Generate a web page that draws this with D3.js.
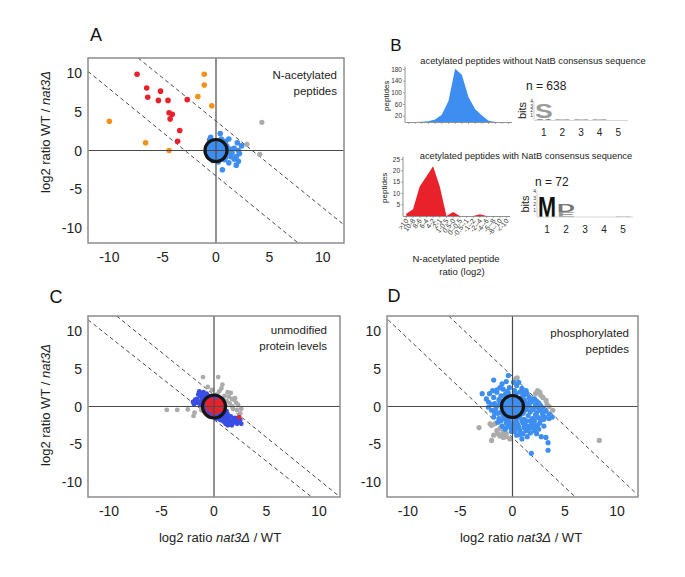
<!DOCTYPE html>
<html><head><meta charset="utf-8">
<script src="https://cdn.jsdelivr.net/npm/d3@7"></script>
<style>body{margin:0;background:#fff} svg{display:block}</style>
</head><body><svg id="c" width="685" height="577"></svg>
<script>
// ---------------- DATA ----------------
// Panel A : N-acetylated peptides  [log2 nat3Δ/WT, log2 WT/nat3Δ]
const aRed = [[-7.4,9.9],[-6.5,8.1],[-6.4,6.9],[-5.2,7.7],[-5.4,6.5],[-4.5,6.5],[-4.4,4.9],[-4.1,4.7],[-4.3,4.1],[-3.4,2.6],[-3.6,1.2],[-2.7,6.6]];
const aOrange = [[-1.1,9.9],[-1.1,8.5],[-1.7,7.0],[-0.4,5.8],[-10.0,3.8],[-6.6,1.0],[-4.4,0.0]];
const aGrey = [[4.3,3.65],[2.9,0.8],[4.1,-0.5]];
const aBlue = [[0.4,2.2],[-0.5,1.7],[1.2,1.5],[1.7,0.3],[2.0,1.0],[2.4,0.6],[2.1,0.0],[2.2,-0.4],[1.9,-0.8],[1.7,-1.1],[2.1,-1.4],[1.9,-1.9],[0.6,-2.5],[1.4,-0.8],[1.2,-1.6],[-0.7,-0.8],[-0.6,1.4],[0.9,1.2],[1.0,0.6],[1.1,-0.3],[0.8,-1.2],[-0.3,-1.3],[0.2,-1.5],[-0.8,0.5],[-0.9,-0.2],[0.5,1.5],[1.3,0.2],[0.3,0.9],[-0.4,0.6],[0.6,-0.5],[0,0],[-0.3,-0.4],[0.4,0.3],[1.5,-0.3],[0.9,-0.9]];
const aLines = [[[-7.3,12],[12,-9.65]],[[-12,10.26],[7.7,-12]]];

// Panel C : unmodified protein levels
const cGrey = [[-4.5,-0.45],[-3.5,-0.45],[-2.5,-0.4],[-1.85,-0.8],[-1.95,-1.25],[-1.05,3.9],[0.4,3.9],[0.8,2.9],[1.4,1.3],[1.9,0.9],[1.75,0.0],[2.2,-0.45],[2.5,-0.9],[-1.6,0.9],[1.6,1.8],[2.0,1.1],[1.2,0.7],[1.0,1.4],[0.5,2.0],[-0.2,2.2],[2.3,0.2],[1.5,0.4],[1.8,-0.3],[0.9,0.9],[2.6,-0.3],[0.3,1.6],[-1.2,-0.5],[1.3,1.9],[2.1,0.5],[0.7,2.4],[-0.6,2.6],[1.7,1.0]];
const cBlue = [[-1.4,2.0],[-1.2,1.7],[-1.3,1.4],[-1.0,1.9],[-0.9,1.5],[-1.1,1.1],[-0.8,1.2],[-0.7,1.7],[-0.6,0.9],[-1.0,0.6],[-0.5,1.4],[-0.4,1.0],[-0.9,0.3],[-0.6,0.4],[-1.2,0.8],[-1.5,1.6],[-0.3,0.6],[-1.3,0.2],[-1.8,0.9],[-1.6,0.5],[-1.9,0.3],[-0.6,-0.3],[0.6,0.3],[-0.5,-0.6],[0.7,-0.6],[0.5,-1.0],[0.9,-0.5],[1.0,-0.9],[1.1,-1.3],[0.8,-1.4],[1.3,-1.0],[1.4,-1.5],[1.2,-1.8],[1.6,-1.3],[1.6,-2.0],[1.9,-1.6],[1.8,-2.2],[2.1,-1.9],[2.2,-2.3],[1.5,-2.4],[2.4,-2.0],[2.3,-1.5],[2.5,-1.8],[0.3,-1.3],[0.6,-1.8],[0.9,-2.0],[1.1,-2.3],[1.3,-2.5],[0.0,-1.1],[-0.3,-0.9],[0.2,-1.6],[1.7,-2.5],[2.6,-2.3],[-0.2,1.2],[0.1,1.0],[1.0,-0.2],[0.7,-1.1],[1.2,-0.6],[-0.8,-0.1],[-1.1,0.1],
[0.4,-1.6],[0.8,-1.8],[1.0,-1.6],[1.5,-1.8],[1.9,-2.0],[2.0,-1.5],[2.2,-1.7],[1.4,-2.1],[-1.6,1.0],[-1.3,1.8],[-0.9,1.0],[-0.5,1.1],[-1.0,0.2],[-1.4,0.5],[0.9,-1.2],[1.2,-1.2],[0.6,-1.3],[-2.0,0.6]];
const cRed = [[-0.5,0.3],[0.2,0.6],[0.6,-0.1],[-0.3,-0.5],[0.1,-0.2],[0.4,0.4],[-0.6,-0.1],[0.3,-0.7],[-0.1,0.9],[0.7,0.5],[-0.4,0.8],[0.0,-0.9],[0.8,-0.4],[-0.7,0.5],[0.5,-0.5],[2.4,-1.4],[0.0,0.3],[0.3,0.1],[-0.2,0.2]];
const cLines = [[[-9.27,12],[12,-12]],[[-12,11.5],[9.3,-12]]];

// Panel D : phosphorylated peptides
const dGrey = [[0.32,3.7],[0.45,3.8],[2.4,2.1],[2.2,1.7],[2.9,1.2],[3.2,0.8],[3.5,0.0],[3.85,-0.5],[8.3,-4.5],[2.7,1.5],[3.3,0.3],[2.6,1.9],[-3.2,-2.8],[-2.15,-2.3],[-2.0,-2.5],[-1.7,-2.3],[-1.5,-3.2],[-1.2,-2.9],[-0.9,-3.4],[-1.0,-3.8],[-1.8,-3.8],[-2.0,-4.5],[-0.6,-3.6],[-0.25,-4.3],[-1.4,-3.6],[-0.6,-4.0],[-1.2,-3.9],[-0.88,-4.1]];
const dBlue = [[-1.8,3.5],[-0.4,4.1],[0.1,3.2],[-1.0,3.0],[-0.9,2.3],[0.4,2.8],[-1.5,2.2],[-0.3,2.5],[0.9,2.4],[1.3,2.1],[-0.5,2.0],[0.2,2.1],
[-2.9,1.7],[-2.2,1.7],[-1.5,1.9],[-1.1,1.4],[-0.7,1.6],[-0.2,1.3],[0.3,1.7],[0.7,1.9],[1.1,1.5],[1.6,1.2],[1.9,1.0],[-1.8,1.2],[-0.4,1.8],[0.9,1.2],[1.4,1.7],[2.1,1.0],
[-2.3,0.6],[-1.7,0.4],[-1.3,0.9],[-0.9,0.3],[-1.1,0.7],[1.2,0.8],[1.5,0.4],[1.8,0.6],[2.2,0.2],[2.5,0.5],[2.7,0.1],[1.0,0.2],[-1.5,0.1],[2.0,0.9],[1.3,0.1],[-2.0,0.3],[2.9,-0.2],
[-2.0,-0.5],[-1.6,-0.3],[-1.2,-0.8],[-0.9,-0.4],[1.1,-0.6],[1.4,-0.2],[1.7,-0.7],[2.0,-0.3],[2.3,-0.8],[2.6,-0.5],[2.9,-0.9],[3.2,-0.6],[-1.4,-0.9],[1.0,-0.9],[2.4,-0.1],[3.5,-1.0],
[-1.8,-1.4],[-1.3,-1.6],[-0.9,-1.2],[-0.5,-1.8],[-0.1,-1.4],[0.3,-1.9],[0.7,-1.3],[1.1,-1.7],[1.5,-1.2],[1.9,-1.6],[2.3,-1.3],[2.7,-1.8],[3.1,-1.4],[3.5,-1.6],[3.8,-1.4],[-0.3,-1.1],[0.5,-1.5],[1.3,-1.9],[2.1,-1.9],[2.9,-1.2],
[-1.4,-2.1],[-1.0,-2.6],[-0.6,-2.2],[-0.2,-2.8],[0.2,-2.3],[0.6,-2.7],[1.0,-2.2],[1.4,-2.6],[1.8,-2.3],[2.2,-2.7],[2.6,-2.2],[3.0,-2.6],[-0.7,-2.9],[0.4,-2.1],[1.6,-2.9],[2.0,-2.2],
[-0.7,-3.0],[0.2,-3.3],[0.7,-3.2],[1.3,-3.2],[2.1,-3.2],[1.0,-3.6],[0.4,-3.8],[1.7,-3.5],[2.75,-4.0],[3.2,-4.1],
[3.4,-4.8],[3.4,-5.8],[1.8,-6.2],[0.9,-4.3],
[-0.5,0.5],[0.5,-0.5],[0.6,0.6],[-0.6,-0.6],[0.8,0.1],[-0.8,-0.1],[0.1,0.8],[-0.1,-0.9],[0.7,-0.9],[-0.7,0.9],[1.0,0.5],[-1.0,-0.2],[0.4,1.1],[-0.3,-1.2],
[-0.2,0.6],[0.2,-0.7],[-1.2,0.4],[1.3,-0.4],[0.9,0.8],[-0.4,-0.3],[1.6,0.1],[1.9,-0.4],[2.2,-1.1],[2.5,-1.5],[0.5,-2.4],[-0.3,-2.0],[0.9,-1.9],[1.2,-2.4],[1.7,-1.9],[2.4,-2.5],[2.8,-0.6],[3.0,-1.7],[-1.7,-0.9],[-2.3,-0.1],[-2.5,1.0],[-1.9,2.1],[-1.2,2.5],[0.6,3.2],[-0.6,3.3],[1.0,1.8],[1.7,0.9],[2.3,0.7],[-0.8,-1.6],[-1.1,-1.9],[0.0,-2.5],[0.3,-2.9],[1.1,-2.8],[1.9,-2.8],[2.5,-3.0],[2.3,-3.6],[1.4,-4.0],[0.7,-3.7],[-0.1,-3.3],[-0.4,-2.5]];
const dLines = [[[-6.1,12],[11.8,-11.5]],[[-11.9,11.5],[6.0,-12]]];

// Panel B : histograms of N-acetylated peptide ratio (log2) bins
const histBins = [">10","10-8","8-6","6-4","4-2","2-1","1-0.5","0.5-0","0--0.5","-0.5--1","-1--2","-2--4","-4--6","-6--8","-8--10","<-10"];
const histWithout = [0,0,0.5,3,9,25,72,183,162,85,44,22,4,0,0,0];
const histWith = [1,3,13,17.5,22,13,0,1.8,0,0,0,0.8,0,0,0,0];
const ticksWithout = [20,60,100,140,180];
const ticksWith = [5,10,15,20,25];

// sequence logos: [position, letter, bits]; stacked bottom-up
const logoWithout = [[1,"A",0.35],[1,"S",3.2],[2,"S",0.25],[3,"S",0.18],[4,"S",0.14],[5,"S",0.1]];
const logoWith = [[1,"M",3.4],[2,"E",0.8],[2,"D",1.3],[5,"S",0.12]];
const logoPositions = [1,2,3,4,5];
const bitTicks = [1,2,3,4];

// ---------------- DRAWING ----------------
const FONT = "'Liberation Sans', Arial, Helvetica, sans-serif";
const svg = d3.select("#c").style("font-family", FONT);
const COL = {blue:"#3d8ef0", red:"#e8212b", orange:"#f39219", grey:"#ababab", cblue:"#3a4ee6", circle:"#151515", frame:"#8c8c8c", axis:"#4a4a4a"};

function scatter(o){
  const g = svg.append("g");
  const x = d3.scaleLinear().domain([-12,12]).range(o.xr);
  const y = d3.scaleLinear().domain([-12,12]).range(o.yr);
  const id = "clip"+o.key;
  svg.append("clipPath").attr("id",id).append("rect")
    .attr("x",o.xr[0]).attr("y",o.yr[1]).attr("width",o.xr[1]-o.xr[0]).attr("height",o.yr[0]-o.yr[1]);
  const inner = g.append("g").attr("clip-path",`url(#${id})`);
  inner.selectAll("line.dash").data(o.lines).join("line").attr("class","dash")
    .attr("x1",d=>x(d[0][0])).attr("y1",d=>y(d[0][1])).attr("x2",d=>x(d[1][0])).attr("y2",d=>y(d[1][1]))
    .attr("stroke","#333").attr("stroke-width",0.9).attr("stroke-dasharray","4,3");
  inner.append("circle").attr("cx",x(0)).attr("cy",y(0)).attr("r",o.cr).attr("fill",o.cfill);
  o.layers.forEach(L=>{
    inner.append("g").selectAll("circle").data(L.data).join("circle")
      .attr("cx",d=>x(d[0])).attr("cy",d=>y(d[1])).attr("r",L.r).attr("fill",L.color);
  });
  inner.append("line").attr("x1",x(0)).attr("x2",x(0)).attr("y1",o.yr[0]).attr("y2",o.yr[1]).attr("stroke",COL.axis).attr("stroke-width",1.2);
  inner.append("line").attr("y1",y(0)).attr("y2",y(0)).attr("x1",o.xr[0]).attr("x2",o.xr[1]).attr("stroke",COL.axis).attr("stroke-width",1.2);
  inner.append("circle").attr("cx",x(0)).attr("cy",y(0)).attr("r",o.cr).attr("fill","none").attr("stroke",COL.circle).attr("stroke-width",3.2);
  g.append("rect").attr("x",o.xr[0]).attr("y",o.yr[1]).attr("width",o.xr[1]-o.xr[0]).attr("height",o.yr[0]-o.yr[1])
    .attr("fill","none").attr("stroke",COL.frame).attr("stroke-width",1.5);
  const ticks=[-10,-5,0,5,10];
  g.selectAll("text.xt").data(ticks).join("text").attr("class","xt").attr("x",d=>x(d)).attr("y",o.yr[0]+19)
    .attr("text-anchor","middle").attr("font-size",14).attr("fill","#222").text(d=>d);
  g.selectAll("text.yt").data(ticks).join("text").attr("class","yt").attr("x",o.xr[0]-6).attr("y",d=>y(d)+5)
    .attr("text-anchor","end").attr("font-size",14).attr("fill","#222").text(d=>d);
  const t = g.append("text").attr("text-anchor","end").attr("font-size",11.5).attr("fill","#222");
  o.title.forEach((s,i)=>t.append("tspan").attr("x",o.titleX).attr("y",o.titleY+i*15.5).text(s));
  if(o.ylab){
    const yl = g.append("text").attr("transform",`translate(${o.ylab[0]},${o.ylab[1]}) rotate(-90)`)
      .attr("text-anchor","middle").attr("font-size",13).attr("fill","#222");
    yl.append("tspan").text("log2 ratio WT / ");
    yl.append("tspan").attr("font-style","italic").text("nat3Δ");
  }
  if(o.xlab){
    const xl = g.append("text").attr("x",o.xlab[0]).attr("y",o.xlab[1]).attr("text-anchor","middle").attr("font-size",13).attr("fill","#222");
    xl.append("tspan").text("log2 ratio ");
    xl.append("tspan").attr("font-style","italic").text("nat3Δ");
    xl.append("tspan").text(" / WT");
  }
  g.append("text").attr("x",o.letter[1]).attr("y",o.letter[2]).attr("text-anchor","middle").attr("font-size",18).attr("fill","#111").text(o.letter[0]);
}

scatter({key:"A", xr:[88,344], yr:[243,58], lines:aLines, cr:11, cfill:COL.blue,
  layers:[{data:aGrey,color:COL.grey,r:2.6},{data:aBlue,color:COL.blue,r:2.8},{data:aOrange,color:COL.orange,r:2.8},{data:aRed,color:COL.red,r:2.8}],
  title:["N-acetylated","peptides"], titleX:337, titleY:79, ylab:[50,132], letter:["A",96,41]});
scatter({key:"C", xr:[88,340], yr:[497,316], lines:cLines, cr:11.5, cfill:COL.red,
  layers:[{data:cGrey,color:COL.grey,r:2.4},{data:cBlue,color:COL.cblue,r:2.4},{data:cRed,color:COL.red,r:2.4}],
  title:["unmodified","protein levels"], titleX:327, titleY:334, ylab:[50,405], xlab:[220,542], letter:["C",56,303]});
scatter({key:"D", xr:[387,638], yr:[497,316], lines:dLines, cr:11, cfill:COL.blue,
  layers:[{data:dGrey,color:COL.grey,r:2.6},{data:dBlue,color:COL.blue,r:2.6}],
  title:["phosphorylated","peptides"], titleX:629, titleY:337, xlab:[521,542], letter:["D",394,302]});

// ---- Panel B ----
svg.append("text").attr("x",396).attr("y",51).attr("text-anchor","middle").attr("font-size",17).attr("fill","#111").text("B");

function hist(o){
  const g = svg.append("g");
  const x = d3.scaleBand().domain(histBins).range(o.xr);
  const y = d3.scaleLinear().domain([0,o.ymax]).range(o.yr);
  const cx = d=>x(d)+x.bandwidth()/2;
  const area = d3.area().x((d,i)=>cx(histBins[i])).y0(o.yr[0]).y1(d=>y(d));
  g.append("path").datum(o.values).attr("d",area).attr("fill",o.color);
  g.append("line").attr("x1",o.xr[0]).attr("x2",o.xr[1]).attr("y1",o.yr[0]+0.5).attr("y2",o.yr[0]+0.5).attr("stroke","#777").attr("stroke-width",0.8);
  g.selectAll("line.xt").data(histBins).join("line").attr("x1",d=>cx(d)).attr("x2",d=>cx(d)).attr("y1",o.yr[0]).attr("y2",o.yr[0]+2).attr("stroke","#777").attr("stroke-width",0.6);
  g.append("line").attr("x1",o.xr[0]).attr("x2",o.xr[0]).attr("y1",o.yr[0]).attr("y2",y(o.ymax)-3).attr("stroke","#777").attr("stroke-width",0.8);
  g.selectAll("line.yt").data(o.ticks).join("line").attr("x1",o.xr[0]-2).attr("x2",o.xr[0]).attr("y1",d=>y(d)).attr("y2",d=>y(d)).attr("stroke","#777").attr("stroke-width",0.6);
  g.selectAll("text.yt").data(o.ticks).join("text").attr("x",o.xr[0]-3).attr("y",d=>y(d)+2.3).attr("text-anchor","end").attr("font-size",6.5).attr("fill","#333").text(d=>d);
  g.append("text").attr("transform",`translate(${o.xr[0]-16},${(o.yr[0]+o.yr[1])/2}) rotate(-90)`).attr("text-anchor","middle").attr("font-size",8).attr("fill","#222").text("peptides");
  g.append("text").attr("x",o.titleX).attr("y",o.titleY).attr("text-anchor","middle").attr("font-size",9.3).attr("fill","#222").text(o.title);
  if(o.labels){
    g.selectAll("text.xl").data(histBins).join("text").attr("text-anchor","end").attr("font-size",7).attr("fill","#333")
      .attr("transform",d=>`translate(${cx(d)+2.5},${o.yr[0]+5}) rotate(-52)`).text(d=>d);
  }
}
hist({xr:[405,512], yr:[122,69.5], ymax:180, values:histWithout, ticks:ticksWithout, color:COL.blue,
  title:"acetylated peptides without NatB consensus sequence", titleX:533, titleY:64});
hist({xr:[403,510], yr:[216,159.5], ymax:25, values:histWith, ticks:ticksWith, color:COL.red,
  title:"acetylated peptides with NatB consensus sequence", titleX:526, titleY:159, labels:true});
svg.append("text").attr("x",456).attr("y",262).attr("text-anchor","middle").attr("font-size",9.5).attr("fill","#222").text("N-acetylated peptide");
svg.append("text").attr("x",462).attr("y",275).attr("text-anchor","middle").attr("font-size",9.5).attr("fill","#222").text("ratio (log2)");

function logo(o){
  const g = svg.append("g");
  const x = d3.scaleBand().domain(logoPositions).range(o.xr).padding(0.05);
  const y = d3.scaleLinear().domain([0,4]).range(o.yr);
  const stack = {};
  o.data.forEach(([p,l,b])=>{
    const base = stack[p]||0; stack[p]=base+b;
    const t = g.append("text").attr("font-size",100).attr("font-weight","bold").attr("fill",(o.colors[l]||"#888")).text(l);
    const w = t.node().getComputedTextLength();
    const h = y(base)-y(base+b);
    t.attr("transform",`translate(${x(p)},${y(base)}) scale(${x.bandwidth()/w},${h/72})`);
  });
  g.append("line").attr("x1",o.xr[0]).attr("x2",o.xr[1]).attr("y1",o.yr[0]+0.5).attr("y2",o.yr[0]+0.5).attr("stroke","#ccc").attr("stroke-width",0.8);
  g.selectAll("text.p").data(logoPositions).join("text").attr("x",d=>x(d)+x.bandwidth()/2).attr("y",o.yr[0]+o.posDy)
    .attr("text-anchor","middle").attr("font-size",10).attr("fill","#222").text(d=>d);
  g.selectAll("text.bt").data(bitTicks).join("text").attr("x",o.xr[0]-1).attr("y",d=>y(d)+1.8).attr("text-anchor","end").attr("font-size",5).attr("fill","#333").text(d=>d);
  g.append("line").attr("x1",o.xr[0]).attr("x2",o.xr[0]).attr("y1",y(0)).attr("y2",y(4)).attr("stroke","#999").attr("stroke-width",0.5);
  g.append("text").attr("transform",`translate(${o.xr[0]-8},${(o.yr[0]+o.yr[1])/2}) rotate(-90)`).attr("text-anchor","middle").attr("font-size",11).attr("fill","#222").text("bits");
  g.append("text").attr("x",o.nX).attr("y",o.nY).attr("font-size",12).attr("fill","#222").text("n = "+o.n);
}
logo({xr:[534,628], yr:[120,101], data:logoWithout, n:638, nX:526, nY:90, posDy:15.5, colors:{S:"#9a9a9a",A:"#111"}});
logo({xr:[537,633], yr:[216.5,191.5], data:logoWith, n:72, nX:535, nY:186, posDy:16, colors:{M:"#111",D:"#777",E:"#999",S:"#bbb"}});
</script></body></html>
